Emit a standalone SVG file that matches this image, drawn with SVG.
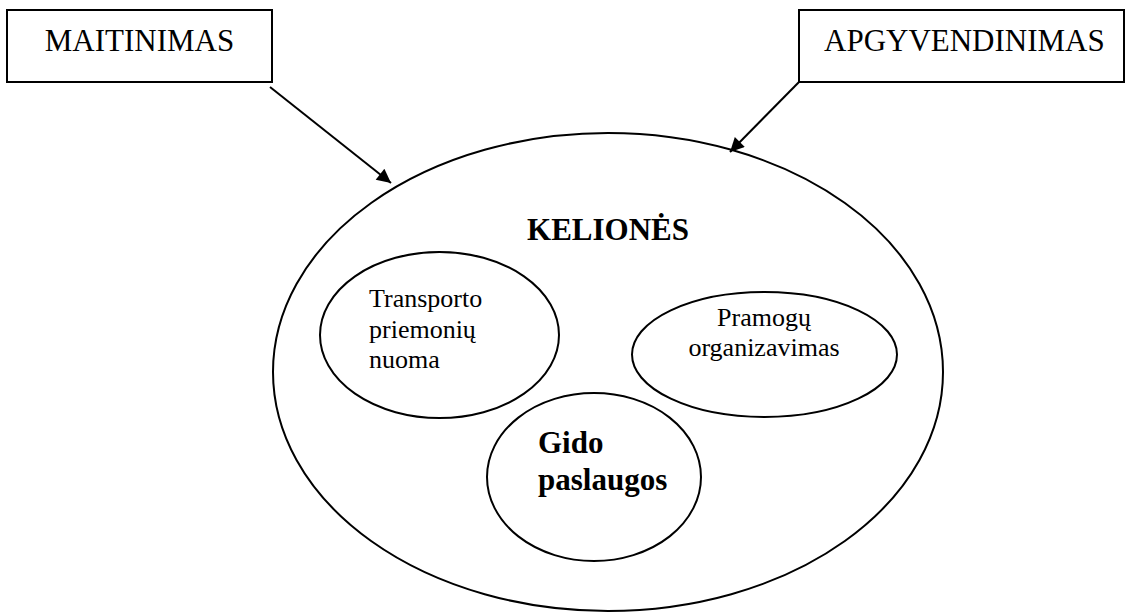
<svg xmlns="http://www.w3.org/2000/svg" width="1126" height="612" viewBox="0 0 1126 612">
<style>
.shape{fill:none;stroke:#000;stroke-width:2}
.box{fill:#fff;stroke:#000;stroke-width:2}
.t{font-family:"Liberation Serif","Times New Roman",serif;fill:#000}
.big{font-size:31px}
.small{font-size:26px}
.b{font-weight:bold}
.conn{stroke:#000;stroke-width:2;fill:none;marker-end:url(#ah)}
</style>
<defs>
<marker id="ah" viewBox="0 0 10 10" refX="10" refY="5" markerWidth="9" markerHeight="7" markerUnits="strokeWidth" orient="auto">
<path d="M0,0 L10,5 L0,10 z" fill="#000"/>
</marker>
</defs>
<rect width="1126" height="612" fill="#fff"/>
<g id="maitinimas">
<rect class="box" x="7" y="10" width="265" height="72"/>
<text class="t big" x="139.5" y="51" text-anchor="middle">MAITINIMAS</text>
</g>
<g id="apgyvendinimas">
<rect class="box" x="799" y="10" width="325" height="72"/>
<text class="t big" x="824" y="51">APGYVENDINIMAS</text>
</g>
<g id="keliones">
<ellipse class="shape" cx="608" cy="372" rx="335" ry="239"/>
<text class="t big b" x="608" y="240" text-anchor="middle">KELIONĖS</text>
</g>
<g id="transporto">
<ellipse class="shape" cx="439.5" cy="335" rx="119.5" ry="83"/>
<text class="t small" x="369" y="307">Transporto</text>
<text class="t small" x="369" y="337.5">priemonių</text>
<text class="t small" x="369" y="368">nuoma</text>
</g>
<g id="pramogu">
<ellipse class="shape" cx="764.5" cy="354.5" rx="132.5" ry="62.5"/>
<text class="t small" x="764" y="326" text-anchor="middle">Pramogų</text>
<text class="t small" x="764" y="356" text-anchor="middle">organizavimas</text>
</g>
<g id="gido">
<ellipse class="shape" cx="594" cy="477" rx="107" ry="84"/>
<text class="t big b" x="538" y="453">Gido</text>
<text class="t big b" x="538" y="490">paslaugos</text>
</g>
<g id="connectors">
<line class="conn" x1="270" y1="87" x2="391" y2="183"/>
<line class="conn" x1="799" y1="82" x2="730" y2="152"/>
</g>
</svg>
